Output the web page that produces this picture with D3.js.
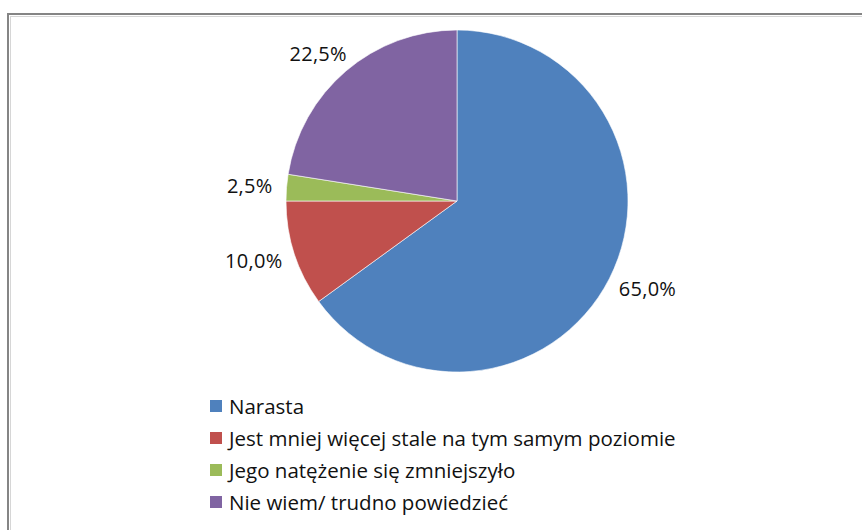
<!DOCTYPE html>
<html>
<head>
<meta charset="utf-8">
<script src="https://cdn.jsdelivr.net/npm/d3@7"></script>
<style>
  html, body { margin: 0; padding: 0; background: #fff; }
  svg { display: block; }
</style>
</head>
<body>
<svg id="chart" width="862" height="530"></svg>
<script>
const categories = [
  "Narasta",
  "Jest mniej więcej stale na tym samym poziomie",
  "Jego natężenie się zmniejszyło",
  "Nie wiem/ trudno powiedzieć"
];
const values = [65.0, 10.0, 2.5, 22.5];
const colors = ["#4F81BD", "#C0504D", "#9BBB59", "#8064A2"];

const svg = d3.select("#chart");
const W = 862, H = 530;
const fmt = v => d3.format(".1f")(v).replace(".", ",") + "%";

// frame
svg.append("rect").attr("x", 8).attr("y", 14).attr("width", W + 20).attr("height", H + 20)
  .attr("fill", "none").attr("stroke", "#858585").attr("stroke-width", 2);
svg.append("rect").attr("x", 10.5).attr("y", 16.5).attr("width", W + 20).attr("height", H + 20)
  .attr("fill", "none").attr("stroke", "#d6d6d6").attr("stroke-width", 1);

const cx = 457, cy = 201, r = 171;
const pie = d3.pie().sort(null).value(d => d)(values);
const arc = d3.arc().innerRadius(0).outerRadius(r);

const g = svg.append("g").attr("transform", `translate(${cx},${cy})`);
g.selectAll("path.slice").data(pie).join("path")
  .attr("class", "slice")
  .attr("d", arc)
  .attr("fill", (d, i) => colors[i])
  .attr("stroke", "#ffffff")
  .attr("stroke-width", 0.6);

// labels outside end: box placed just beyond the rim, offset by its half-size
const gap = 14, boxH = 17;
g.selectAll("text.lbl").data(pie).join("text")
  .attr("class", "lbl")
  .attr("font-family", "'Open Sans', sans-serif")
  .attr("font-size", 20)
  .attr("letter-spacing", 0.3)
  .attr("fill", "#111")
  .attr("text-anchor", "middle")
  .attr("dominant-baseline", "central")
  .text(d => fmt(d.data))
  .each(function(d) {
    const a = (d.startAngle + d.endAngle) / 2;
    const s = Math.sin(a), c = Math.cos(a);
    const w = this.getComputedTextLength();
    const x = r * s + s * gap + s * w / 2;
    const y = -r * c - c * gap - c * boxH / 2;
    d3.select(this).attr("x", x).attr("y", y);
  });

// legend
const leg = svg.append("g").attr("transform", "translate(210,406)");
const rowH = 32;
const items = leg.selectAll("g").data(categories).join("g")
  .attr("transform", (d, i) => `translate(0,${i * rowH})`);
items.append("rect").attr("x", 0).attr("y", -6).attr("width", 12).attr("height", 12)
  .attr("fill", (d, i) => colors[i]);
items.append("text").attr("x", 19).attr("y", 0)
  .attr("dominant-baseline", "central")
  .attr("font-family", "'Open Sans', sans-serif")
  .attr("font-size", 20.5)
  .attr("fill", "#111")
  .text(d => d);
</script>
</body>
</html>
